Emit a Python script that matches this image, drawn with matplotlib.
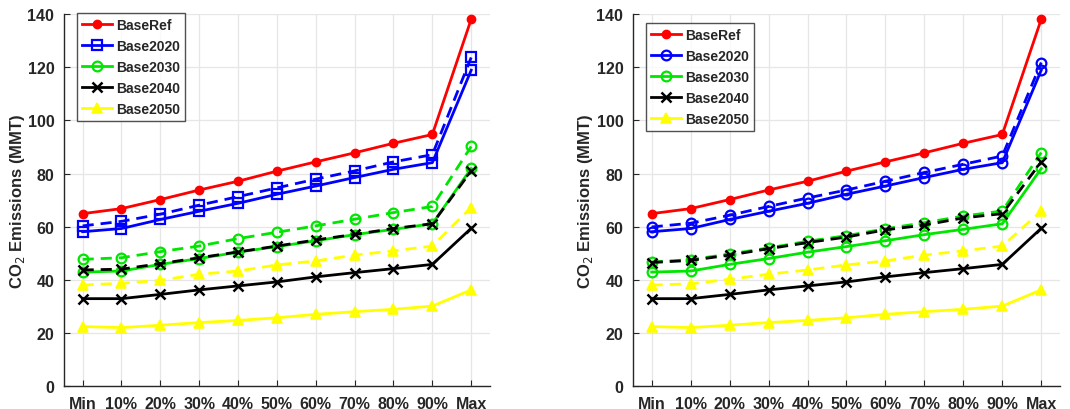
import matplotlib
matplotlib.use("Agg")
import matplotlib.pyplot as plt

plt.rcParams['font.family'] = ['Liberation Sans', 'DejaVu Sans']

categories = ["Min", "10%", "20%", "30%", "40%", "50%", "60%", "70%", "80%", "90%", "Max"]

# Solid (baseline) scenarios, shared by both panels
base_ref  = [64.9, 66.8, 70.2, 73.8, 77.1, 80.9, 84.4, 87.8, 91.4, 94.7, 138.1]
base_2020 = [58.1, 59.3, 62.7, 65.8, 68.8, 72.2, 75.3, 78.5, 81.6, 84.1, 118.9]
base_2030 = [42.9, 43.3, 45.8, 48.0, 50.4, 52.5, 54.7, 57.0, 59.0, 61.1, 81.9]
base_2040 = [32.9, 32.9, 34.5, 36.2, 37.7, 39.2, 41.1, 42.7, 44.2, 45.8, 59.4]
base_2050 = [22.4, 22.0, 22.9, 23.9, 24.7, 25.7, 27.0, 28.0, 28.9, 30.1, 36.2]

# Dashed scenarios, left panel
left_2020 = [60.3, 62.0, 64.7, 68.1, 71.3, 74.6, 77.9, 81.0, 84.4, 87.1, 123.7]
left_2030 = [47.7, 48.3, 50.6, 52.7, 55.5, 57.9, 60.3, 62.8, 65.3, 67.6, 90.2]
left_2040 = [43.7, 44.0, 46.1, 48.3, 50.5, 52.7, 55.0, 57.1, 59.3, 61.1, 81.0]
left_2050 = [38.0, 38.7, 39.8, 42.1, 43.3, 45.6, 47.1, 49.3, 50.9, 52.7, 67.2]

# Dashed scenarios, right panel
right_2020 = [59.9, 61.3, 64.3, 67.6, 70.8, 73.8, 77.1, 80.4, 83.5, 86.6, 121.8]
right_2030 = [46.7, 47.6, 49.7, 52.0, 54.5, 56.6, 59.2, 61.5, 64.0, 65.9, 87.9]
right_2040 = [46.5, 47.3, 49.3, 51.7, 54.0, 56.1, 58.8, 60.6, 63.3, 64.9, 84.4]
right_2050 = [38.0, 38.5, 40.2, 42.1, 43.7, 45.6, 47.1, 49.3, 50.9, 52.7, 65.9]

RED, BLUE, GREEN, BLACK, YELLOW = "#ff0000", "#0000ff", "#00e600", "#000000", "#ffff00"
LW = 2.0
MS = 7
TXT = "#262626"

fig = plt.figure(figsize=(10.7, 4.1), dpi=100)
ax_left = fig.add_axes([0.0598, 0.056, 0.398, 0.907])
ax_right = fig.add_axes([0.5916, 0.056, 0.399, 0.907])

x = list(range(len(categories)))


def draw_panel(ax, dashed, blue_marker, legend_loc):
    d2020, d2030, d2040, d2050 = dashed
    dash = dict(linestyle=(0, (4, 2.5)), lw=LW, ms=MS)
    # dashed scenarios
    ax.plot(x, d2020, color=BLUE, marker=blue_marker, mfc="none", mew=1.6, **dash)
    ax.plot(x, d2030, color=GREEN, marker="o", mfc="none", mew=1.6, **dash)
    ax.plot(x, d2050, color=YELLOW, marker="^", mfc=YELLOW, mew=1.2, **dash)
    # solid scenarios
    ax.plot(x, base_ref, color=RED, marker="o", mfc=RED, lw=LW, ms=6, label="BaseRef")
    ax.plot(x, base_2020, color=BLUE, marker=blue_marker, mfc="none", mew=1.6, lw=LW, ms=MS, label="Base2020")
    ax.plot(x, base_2030, color=GREEN, marker="o", mfc="none", mew=1.6, lw=LW, ms=MS, label="Base2030")
    ax.plot(x, d2040, color=BLACK, marker="x", mew=1.8, **dash)
    ax.plot(x, base_2040, color=BLACK, marker="x", mew=1.8, lw=LW, ms=MS, label="Base2040")
    ax.plot(x, base_2050, color=YELLOW, marker="^", mfc=YELLOW, mew=1.2, lw=LW, ms=MS, label="Base2050")

    ax.set_xlim(-0.48, 10.48)
    ax.set_ylim(0, 140)
    ax.set_yticks(range(0, 141, 20))
    ax.set_xticks(x)
    ax.set_xticklabels(categories)
    ax.grid(True, color="#e6e6e6", lw=0.9)
    ax.set_axisbelow(True)
    for s in ("top", "right"):
        ax.spines[s].set_visible(False)
    for s in ("left", "bottom"):
        ax.spines[s].set_color("#262626")
        ax.spines[s].set_linewidth(1.0)
    ax.tick_params(axis="both", direction="in", length=4, colors="#262626",
                   labelsize=11.5, pad=7)
    for lab in ax.get_xticklabels() + ax.get_yticklabels():
        lab.set_fontweight("bold")
        lab.set_color(TXT)
    ax.set_ylabel("CO$_2$ Emissions (MMT)", fontsize=12, fontweight="bold", color=TXT)
    ax.yaxis.set_label_coords(-0.088, 0.5)
    leg = ax.legend(loc="upper left", bbox_to_anchor=legend_loc, frameon=True, fancybox=False,
                    edgecolor="#262626", handlelength=2.2, handletextpad=0.25,
                    labelspacing=0.5, borderpad=0.35, borderaxespad=0.0,
                    prop={"weight": "bold", "size": 10})
    leg.get_frame().set_linewidth(1.0)
    for t in leg.get_texts():
        t.set_color(TXT)


draw_panel(ax_left, (left_2020, left_2030, left_2040, left_2050), "s", (0.03, 1.003))
draw_panel(ax_right, (right_2020, right_2030, right_2040, right_2050), "o", (0.03, 0.975))

fig.savefig("out.png", dpi=100)
